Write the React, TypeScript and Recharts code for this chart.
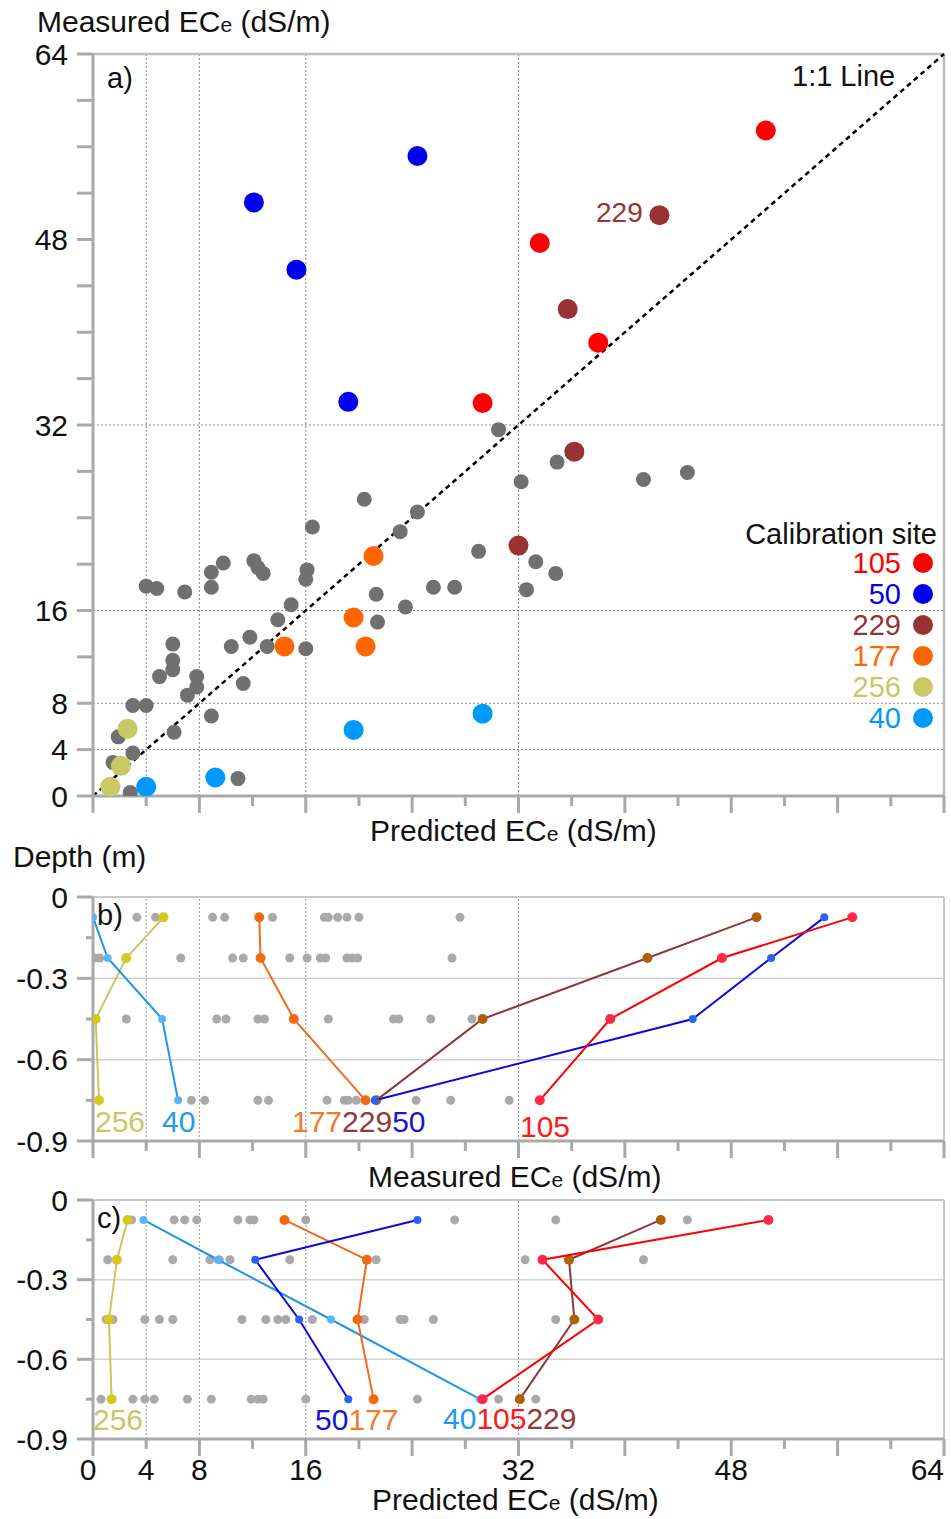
import React from 'react';
import { ScatterChart, Scatter, XAxis, YAxis, ReferenceLine } from 'recharts';

const FONT = '"Liberation Sans", Arial, Helvetica, sans-serif';

// ---------- Panel a: predicted (x) vs measured (y) ECe ----------
const a105Pred = [50.6, 33.6, 38.0, 29.3];
const a105Meas = [57.4, 47.7, 39.1, 33.9];
const a50Pred = [24.4, 12.1, 15.3, 19.2];
const a50Meas = [55.2, 51.2, 45.4, 34.0];
const a229Pred = [42.6, 35.7, 36.2, 32.0];
const a229Meas = [50.1, 42.0, 29.7, 21.6];
const a177Pred = [14.4, 21.1, 19.6, 20.5];
const a177Meas = [12.9, 20.7, 15.4, 12.9];
const a256Pred = [2.6, 2.1, 1.3];
const a256Meas = [5.8, 2.6, 0.8];
const a40Pred = [4.0, 9.2, 19.6, 29.3];
const a40Meas = [0.8, 1.6, 5.7, 7.1];

const greyAPred = [20.4, 24.4, 23.1, 16.5, 29.0, 9.8, 8.9, 12.1, 12.4, 12.8, 16.1, 16.0, 4.0, 4.8, 6.9, 8.9, 21.3, 25.6, 27.2, 23.5, 14.9, 13.9, 21.4, 11.8, 10.4, 13.1, 16.0, 6.0, 6.0, 6.0, 5.0, 7.8, 7.8, 7.1, 11.3, 3.0, 4.0, 8.9, 6.1, 1.9, 3.0, 1.5, 10.9, 2.8, 30.5, 34.9, 32.2, 41.4, 44.7, 33.3, 34.8, 32.6];
const greyAMeas = [25.6, 24.5, 22.8, 23.2, 21.1, 20.1, 19.3, 20.3, 19.7, 19.2, 19.5, 18.7, 18.1, 17.9, 17.6, 18.0, 17.4, 18.0, 18.0, 16.3, 16.5, 15.2, 15.0, 13.7, 12.9, 12.9, 12.7, 13.1, 11.7, 10.9, 10.3, 10.3, 9.4, 8.7, 9.7, 7.8, 7.8, 6.9, 5.5, 5.1, 3.7, 2.9, 1.5, 0.3, 31.6, 28.8, 27.1, 27.3, 27.9, 20.2, 19.2, 17.8];

// ---------- Panels b, c: depth profiles ----------
const depths = [-0.075, -0.225, -0.45, -0.75];

const b256 = [5.3, 2.5, 0.2, 0.45];
const b40 = [0.0, 1.1, 5.2, 6.4];
const b177 = [12.5, 12.6, 15.1, 20.5];
const b229 = [49.9, 41.7, 29.3, 21.3];
const b50 = [55.0, 51.0, 45.1, 21.2];
const b105 = [57.1, 47.3, 38.9, 33.6];

const greyB1 = [3.3, 4.7, 9.0, 9.9, 13.5, 17.4, 17.7, 18.4, 19.1, 20.0, 27.6];
const greyB2 = [0.1, 0.5, 6.6, 10.5, 11.3, 14.8, 16.1, 17.1, 17.5, 19.1, 19.5, 19.9, 27.0];
const greyB3 = [2.5, 9.3, 10.0, 12.4, 12.9, 17.7, 22.6, 23.0, 25.4, 28.5];
const greyB4 = [7.4, 8.4, 12.4, 13.2, 17.6, 18.9, 19.2, 19.8, 24.3, 26.9, 31.3];

const c256 = [2.6, 1.8, 1.2, 1.4];
const c40 = [3.8, 9.4, 17.9, 29.1];
const c50 = [24.4, 12.2, 15.5, 19.2];
const c177 = [14.4, 20.6, 19.9, 21.1];
const c229 = [42.7, 35.8, 36.2, 32.1];
const c105 = [50.8, 33.8, 38.0, 29.3];

const greyC1 = [2.9, 6.1, 6.9, 7.8, 10.9, 11.8, 12.1, 16.0, 27.2, 34.8, 44.7];
const greyC2 = [1.1, 6.0, 8.8, 9.5, 10.3, 14.8, 21.3, 32.5, 41.4];
const greyC3 = [1.0, 1.5, 3.9, 5.0, 6.0, 11.2, 13.0, 13.9, 14.5, 16.5, 20.4, 23.1, 23.4, 25.6, 34.8];
const greyC4 = [0.6, 3.0, 3.9, 4.6, 7.1, 8.9, 11.9, 12.4, 12.8, 16.0, 24.4, 30.5, 33.3];

// ---------- Axis ticks ----------
const xTicks = [0, 4, 8, 12, 16, 20, 24, 28, 32, 36, 40, 44, 48, 52, 56, 60, 64];
const xLabeled = [0, 4, 8, 16, 32, 48, 64];
const yTicksA = [0, 4, 8, 12, 16, 20, 24, 28, 32, 36, 40, 44, 48, 52, 56, 60, 64];
const yLabeledA = [0, 4, 8, 16, 32, 48, 64];
const yTicksD = [-0.9, -0.75, -0.6, -0.45, -0.3, -0.15, 0];
const yLabeledD = [-0.9, -0.6, -0.3, 0];
const gridVals = [4, 8, 16, 32];

// legend
const legendSites = ['105', '50', '229', '177', '256', '40'];
const legendColors = ['#ff0000', '#0000ee', '#993333', '#ff6600', '#c8c864', '#0099ff'];

const zip = (xs: number[], ys: number[]) => xs.map((x, i) => ({ x, y: ys[i] }));
const prof = (xs: number[]) => xs.map((x, i) => ({ x, y: depths[i] }));
const greyRows = (rows: number[][]) => rows.flatMap((row, i) => row.map((x) => ({ x, y: depths[i] })));

const dot = (r: number, fill: string) => (p: any) =>
  p.cx == null ? <g /> : <circle cx={p.cx} cy={p.cy} r={r} fill={fill} />;

const AXIS = '#a9a9a9';

const makeXTick = (showLabels: boolean) => (p: any) => {
  const v = p.payload.value;
  const long = v % 8 === 0;
  const len = long ? 17 : 10;
  let anchor: any = 'middle';
  let tx = p.x;
  if (v === 64) anchor = 'end', (tx = p.x);
  if (v === 0) tx = p.x - 5;
  return (
    <g>
      <line x1={p.x} x2={p.x} y1={p.y} y2={p.y + len} stroke={AXIS} strokeWidth={3} />
      {showLabels && xLabeled.includes(v) ? (
        <text x={tx} y={p.y + 41} textAnchor={anchor} fontSize={30} fontFamily={FONT} fill="#111">
          {v}
        </text>
      ) : null}
    </g>
  );
};

const makeYTick = (labeled: number[], shortLen: number) => (p: any) => {
  const v = p.payload.value;
  const isLab = labeled.includes(v);
  const len = isLab ? 16 : shortLen;
  return (
    <g>
      <line x1={p.x - len} x2={p.x} y1={p.y} y2={p.y} stroke={AXIS} strokeWidth={3} />
      {isLab ? (
        <text x={p.x - 25} y={p.y + 10.5} textAnchor="end" fontSize={30} fontFamily={FONT} fill="#111">
          {String(v)}
        </text>
      ) : null}
    </g>
  );
};

const PanelA = () => (
  <ScatterChart width={951} height={830} margin={{ top: 54, right: 7, bottom: 14, left: 0 }}>
    <XAxis
      type="number" dataKey="x" domain={[0, 64]} ticks={xTicks} interval={0} height={20}
      axisLine={{ stroke: AXIS, strokeWidth: 3 }} tickLine={false} tickSize={0} tickMargin={0}
      tick={makeXTick(false)} allowDataOverflow
    />
    <YAxis
      type="number" dataKey="y" domain={[0, 64]} ticks={yTicksA} interval={0} width={93}
      axisLine={{ stroke: AXIS, strokeWidth: 3 }} tickLine={false} tickSize={0} tickMargin={0}
      tick={makeYTick(yLabeledA, 16)} allowDataOverflow
    />
    {gridVals.map((g) => (
      <ReferenceLine key={'vx' + g} x={g} stroke="#8a8a8a" strokeWidth={1} strokeDasharray="2 2" />
    ))}
    {gridVals.map((g) => (
      <ReferenceLine key={'hy' + g} y={g} stroke="#8a8a8a" strokeWidth={1} strokeDasharray="2 2" />
    ))}
    <ReferenceLine y={64} stroke="#bdbdbd" strokeWidth={2.5} />
    <ReferenceLine x={64} stroke="#bdbdbd" strokeWidth={2.5} />
    <Scatter data={zip(greyAPred, greyAMeas)} shape={dot(7.5, '#707070')} isAnimationActive={false} />
    <ReferenceLine segment={[{ x: 0, y: 0 }, { x: 64, y: 64 }]} stroke="#000" strokeWidth={2.5} strokeDasharray="5 4" />
    <Scatter data={zip(a105Pred, a105Meas)} shape={dot(10, '#ff0000')} isAnimationActive={false} />
    <Scatter data={zip(a50Pred, a50Meas)} shape={dot(10, '#0000ee')} isAnimationActive={false} />
    <Scatter data={zip(a229Pred, a229Meas)} shape={dot(10, '#993333')} isAnimationActive={false} />
    <Scatter data={zip(a177Pred, a177Meas)} shape={dot(10, '#ff6600')} isAnimationActive={false} />
    <Scatter data={zip(a256Pred, a256Meas)} shape={dot(10, '#c8c864')} isAnimationActive={false} />
    <Scatter data={zip(a40Pred, a40Meas)} shape={dot(10, '#0099ff')} isAnimationActive={false} />
  </ScatterChart>
);

type Series = { vals: number[]; line: string; dotc: string; r: number };

const DepthPanel = ({ height, top, bottom, xh, labels, grey, series }: any) => (
  <ScatterChart width={951} height={height} margin={{ top, right: 7, bottom, left: 0 }}>
    <XAxis
      type="number" dataKey="x" domain={[0, 64]} ticks={xTicks} interval={0} height={xh}
      axisLine={{ stroke: AXIS, strokeWidth: 3 }} tickLine={false} tickSize={0} tickMargin={0}
      tick={makeXTick(labels)} allowDataOverflow
    />
    <YAxis
      type="number" dataKey="y" domain={[-0.9, 0]} ticks={yTicksD} interval={0} width={93}
      axisLine={{ stroke: AXIS, strokeWidth: 3 }} tickLine={false} tickSize={0} tickMargin={0}
      tick={makeYTick(yLabeledD, 7)} allowDataOverflow
    />
    <ReferenceLine y={-0.3} stroke="#d2d2d2" strokeWidth={1.5} />
    <ReferenceLine y={-0.6} stroke="#d2d2d2" strokeWidth={1.5} />
    {gridVals.map((g) => (
      <ReferenceLine key={'vx' + g} x={g} stroke="#9a9a9a" strokeWidth={1} strokeDasharray="2 2" />
    ))}
    <ReferenceLine y={0} stroke="#c8c8c8" strokeWidth={2} />
    <ReferenceLine x={64} stroke="#c8c8c8" strokeWidth={2} />
    <Scatter data={greyRows(grey)} shape={dot(4.5, '#a9a9a9')} isAnimationActive={false} />
    {series.map((s: Series, i: number) => (
      <Scatter
        key={i}
        data={prof(s.vals)}
        line={{ stroke: s.line, strokeWidth: 2 }}
        lineType="joint"
        shape={dot(s.r, s.dotc)}
        isAnimationActive={false}
      />
    ))}
  </ScatterChart>
);

const seriesB: Series[] = [
  { vals: b256, line: '#c9c65a', dotc: '#d8c81c', r: 5 },
  { vals: b40, line: '#1e96ea', dotc: '#5ab4f5', r: 4 },
  { vals: b177, line: '#f26b1d', dotc: '#f06a14', r: 5 },
  { vals: b229, line: '#8c3a3a', dotc: '#b0600a', r: 5 },
  { vals: b50, line: '#0a0ae0', dotc: '#2a62f5', r: 4 },
  { vals: b105, line: '#ff0000', dotc: '#ff2a4a', r: 5 },
];
const seriesC: Series[] = [
  { vals: c256, line: '#c9c65a', dotc: '#d8c81c', r: 5 },
  { vals: c40, line: '#1e96ea', dotc: '#5ab4f5', r: 4 },
  { vals: c177, line: '#f26b1d', dotc: '#f06a14', r: 5 },
  { vals: c229, line: '#8c3a3a', dotc: '#b0600a', r: 5 },
  { vals: c50, line: '#0a0ae0', dotc: '#2a62f5', r: 4 },
  { vals: c105, line: '#ff0000', dotc: '#ff2a4a', r: 5 },
];

const Sub = ({ children }: any) => <tspan fontSize={21}>{children}</tspan>;

const Overlay = () => (
  <svg width={951} height={1519} style={{ position: 'absolute', left: 0, top: 0, pointerEvents: 'none' }} fontFamily={FONT}>
    <text x={37} y={32} fontSize={30} fill="#111">Measured EC<Sub>e</Sub> (dS/m)</text>
    <text x={107} y={88} fontSize={29} fill="#111">a)</text>
    <text x={792} y={86} fontSize={29} fill="#111">1:1 Line</text>
    <text x={596} y={222} fontSize={28} fill="#993333">229</text>
    <text x={937} y={544} fontSize={29} textAnchor="end" fill="#111">Calibration site</text>
    {legendSites.map((s, i) => (
      <g key={s}>
        <text x={901} y={573 + i * 31} fontSize={29} textAnchor="end" fill={legendColors[i]}>{s}</text>
        <circle cx={923} cy={563 + i * 31} r={10} fill={legendColors[i]} />
      </g>
    ))}
    <text x={370} y={841} fontSize={30} fill="#111">Predicted EC<Sub>e</Sub> (dS/m)</text>

    <text x={13} y={867} fontSize={30} fill="#111">Depth (m)</text>
    <text x={97} y={925} fontSize={29} fill="#111">b)</text>
    <text x={95} y={1132} fontSize={30} fill="#c8c86a">256</text>
    <text x={162} y={1132} fontSize={30} fill="#2199ee">40</text>
    <text x={292} y={1132} fontSize={30}>
      <tspan fill="#f27a2c">177</tspan>
      <tspan fill="#973838">229</tspan>
      <tspan fill="#1616d8">50</tspan>
    </text>
    <text x={520} y={1137} fontSize={30} fill="#ff1a1a">105</text>
    <text x={368} y={1187} fontSize={30} fill="#111">Measured EC<Sub>e</Sub> (dS/m)</text>

    <text x={97} y={1228} fontSize={29} fill="#111">c)</text>
    <text x={93} y={1430} fontSize={30} fill="#c8c86a">256</text>
    <text x={315} y={1430} fontSize={30}>
      <tspan fill="#1616d8">50</tspan>
      <tspan fill="#f27a2c">177</tspan>
    </text>
    <text x={443} y={1429} fontSize={30}>
      <tspan fill="#2199ee">40</tspan>
      <tspan fill="#ff1a1a">105</tspan>
      <tspan fill="#973838">229</tspan>
    </text>
    <text x={372} y={1510} fontSize={30} fill="#111">Predicted EC<Sub>e</Sub> (dS/m)</text>
  </svg>
);

export default function App() {
  return (
    <div style={{ position: 'absolute', left: 0, top: 0, width: 951, height: 1519, background: '#fff', overflow: 'hidden', fontFamily: FONT }}>
      <div style={{ position: 'absolute', left: 0, top: 0 }}>
        <PanelA />
      </div>
      <div style={{ position: 'absolute', left: 0, top: 850 }}>
        <DepthPanel height={320} top={47} bottom={4} xh={25} labels={false} grey={[greyB1, greyB2, greyB3, greyB4]} series={seriesB} />
      </div>
      <div style={{ position: 'absolute', left: 0, top: 1170 }}>
        <DepthPanel height={349} top={30} bottom={10} xh={70} labels={true} grey={[greyC1, greyC2, greyC3, greyC4]} series={seriesC} />
      </div>
      <Overlay />
    </div>
  );
}
